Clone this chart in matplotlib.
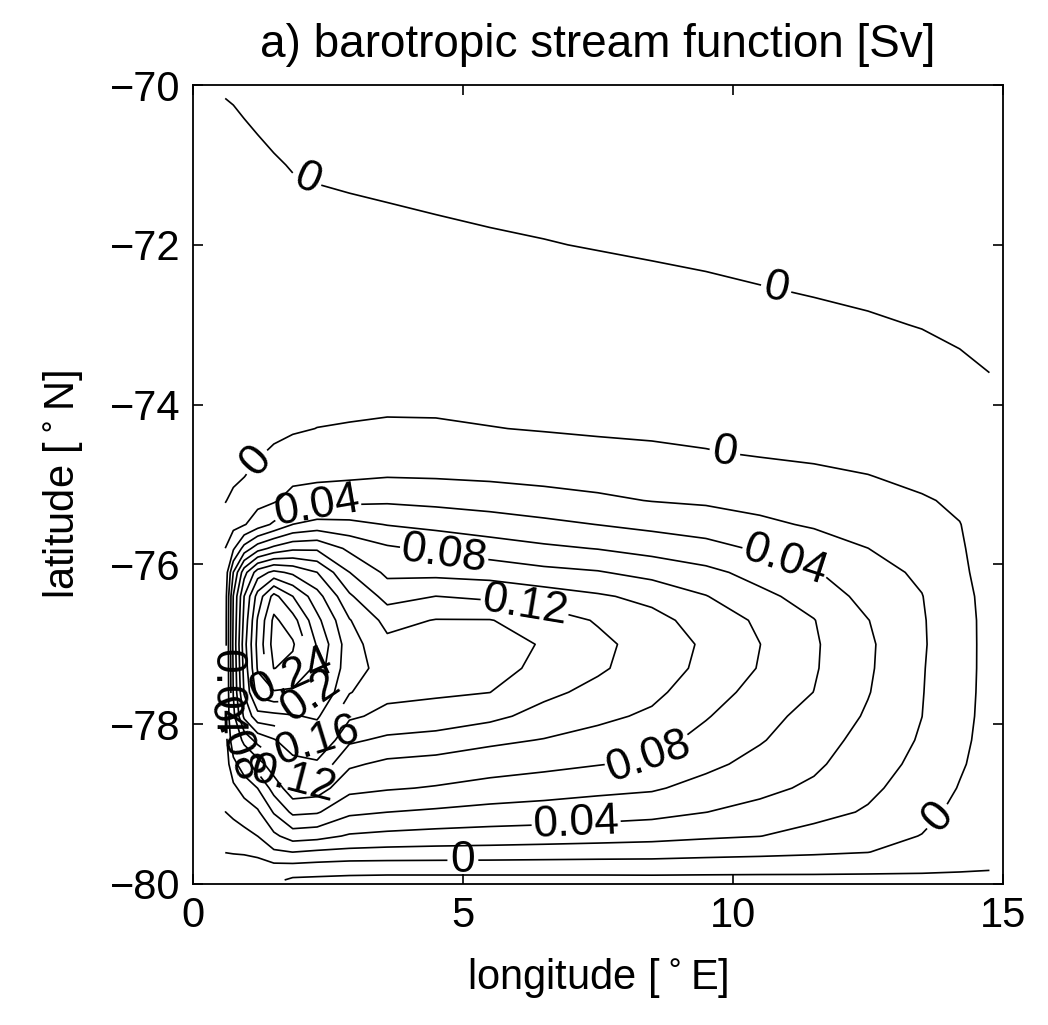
import matplotlib.pyplot as plt
import numpy as np

plt.rcParams['font.family'] = ['Liberation Sans', 'DejaVu Sans']

# model grid (deg E / deg N)
lon = [0.6, 0.75, 0.95, 1.2, 1.5, 1.85, 2.3, 2.9, 3.6, 4.5, 5.5, 6.5,
       7.5, 8.5, 9.5, 10.5, 11.5, 12.5, 13.5, 14.2, 14.75]
lat = [-79.95, -79.8, -79.6, -79.4, -79.1, -78.8, -78.5, -78.2, -77.9,
       -77.6, -77.3, -77.0, -76.7, -76.4, -76.1, -75.8, -75.5, -75.2,
       -74.9, -74.6, -74.3, -74.0, -73.0, -72.0, -71.0, -70.1]

# stream function [Sv], one profile (south -> north) per longitude
psi_by_lon = [
    [-0.012, -0.007, 0.0003, 0.010, 0.0198, 0.026, 0.029, 0.030, 0.031, 0.031, 0.031, 0.031, 0.031,
     0.030, 0.026, 0.0201, 0.009, -0.001, -0.006, -0.008, -0.009, -0.0095, -0.008, -0.0055, -0.0025, 0.0002],
    [-0.01, -0.0075, 0.001, 0.0105, 0.024, 0.036, 0.0533, 0.076, 0.0943, 0.1013, 0.103, 0.105, 0.103,
     0.101, 0.0805, 0.0371, 0.0143, 0.0048, -0.004, -0.0075, -0.0085, -0.009, -0.0075, -0.0055, -0.004, 0.0008],
    [-0.011, -0.0085, 0.0018, 0.0139, 0.030, 0.0471, 0.072, 0.1067, 0.144, 0.1617, 0.1669, 0.172, 0.166,
     0.1602, 0.1323, 0.0675, 0.0185, 0.0096, -0.0003, -0.006, -0.008, -0.0085, -0.007, -0.005, -0.0029, 0.0016],
    [-0.012, -0.0085, 0.0046, 0.0201, 0.0371, 0.0602, 0.0911, 0.1267, 0.1723, 0.208, 0.222, 0.226, 0.222,
     0.208, 0.17, 0.0914, 0.03, 0.0141, 0.0059, -0.002, -0.0065, -0.0075, -0.0065, -0.0045, -0.0019, 0.0026],
    [-0.016, -0.0075, 0.0171, 0.0357, 0.0618, 0.088, 0.112, 0.1382, 0.1743, 0.2171, 0.2606, 0.2678, 0.2644,
     0.2467, 0.185, 0.1057, 0.0433, 0.0175, 0.01, 0.0025, -0.0045, -0.0065, -0.006, -0.004, -0.0007, 0.0035],
    [-0.023, -0.008, 0.0202, 0.0493, 0.0842, 0.113, 0.1329, 0.152, 0.178, 0.2133, 0.2533, 0.2628, 0.248,
     0.2202, 0.176, 0.116, 0.0602, 0.028, 0.0145, 0.0063, -0.002, -0.0055, -0.006, -0.0036, 0.0004, 0.0045],
    [-0.024, -0.0095, 0.0169, 0.0467, 0.082, 0.11, 0.1357, 0.1615, 0.1833, 0.2015, 0.2105, 0.2178, 0.2054,
     0.188, 0.1602, 0.1167, 0.0677, 0.032, 0.016, 0.008, 0.0002, -0.004, -0.0065, -0.0032, 0.001, 0.005],
    [-0.025, -0.0115, 0.0147, 0.0378, 0.064, 0.0857, 0.1033, 0.1233, 0.1433, 0.1612, 0.1684, 0.1684, 0.1612,
     0.1433, 0.1202, 0.0957, 0.0659, 0.0348, 0.0173, 0.0093, 0.0013, -0.0035, -0.007, -0.0033, 0.0018, 0.0055],
    [-0.026, -0.0115, 0.0133, 0.035, 0.0601, 0.0818, 0.0955, 0.116, 0.1347, 0.1449, 0.152, 0.1451, 0.1338,
     0.1125, 0.0957, 0.083, 0.0592, 0.037, 0.0194, 0.0111, 0.0028, -0.003, -0.008, -0.0035, 0.0031, 0.0065],
    [-0.026, -0.0115, 0.0125, 0.0327, 0.0569, 0.0786, 0.0924, 0.1124, 0.1319, 0.1427, 0.1482, 0.1464, 0.1409,
     0.1202, 0.0943, 0.0763, 0.0545, 0.0347, 0.0186, 0.0105, 0.0024, -0.003, -0.008, -0.0025, 0.0041, 0.007],
    [-0.026, -0.0115, 0.0118, 0.0313, 0.0533, 0.0733, 0.0889, 0.104, 0.1253, 0.1402, 0.1449, 0.1478, 0.1408,
     0.116, 0.092, 0.0693, 0.0497, 0.0315, 0.017, 0.0088, 0.0005, -0.004, -0.0075, -0.0015, 0.0054, 0.008],
    [-0.026, -0.0115, 0.0106, 0.030, 0.0513, 0.0694, 0.0851, 0.0991, 0.1125, 0.125, 0.1366, 0.1385, 0.1306,
     0.1096, 0.0854, 0.0636, 0.0448, 0.0271, 0.0151, 0.0068, -0.001, -0.005, -0.007, -0.0004, 0.005, 0.008],
    [-0.026, -0.0115, 0.0095, 0.0283, 0.0489, 0.0653, 0.0808, 0.0931, 0.1043, 0.1141, 0.123, 0.1249, 0.1182,
     0.1025, 0.0815, 0.0593, 0.0397, 0.0232, 0.0133, 0.005, -0.0025, -0.0055, -0.0065, 0.0005, 0.0055, 0.0085],
    [-0.026, -0.011, 0.0084, 0.0264, 0.0461, 0.0624, 0.0767, 0.0873, 0.0968, 0.1045, 0.1096, 0.1114, 0.106,
     0.0948, 0.0733, 0.0533, 0.0347, 0.0194, 0.0111, 0.0028, -0.003, -0.006, -0.006, 0.0015, 0.006, 0.009],
    [-0.026, -0.012, 0.0064, 0.0229, 0.0402, 0.0533, 0.0645, 0.0734, 0.0815, 0.089, 0.0954, 0.0971, 0.0922,
     0.0808, 0.065, 0.0469, 0.0303, 0.0173, 0.009, 0.0008, -0.004, -0.0065, -0.005, 0.0025, 0.0065, 0.009],
    [-0.026, -0.0127, 0.0048, 0.0203, 0.034, 0.045, 0.054, 0.0615, 0.066, 0.073, 0.0788, 0.0802, 0.0767,
     0.0646, 0.0533, 0.0373, 0.0236, 0.0142, 0.0063, -0.0015, -0.005, -0.007, -0.0035, 0.0035, 0.007, 0.01],
    [-0.026, -0.013, 0.0027, 0.0135, 0.026, 0.0366, 0.0435, 0.0489, 0.0542, 0.0598, 0.0618, 0.0623, 0.0606,
     0.0527, 0.0418, 0.0294, 0.018, 0.0107, 0.0034, -0.003, -0.0055, -0.007, -0.0024, 0.0046, 0.008, 0.011],
    [-0.026, -0.014, 0.0004, 0.0073, 0.0182, 0.0238, 0.0285, 0.033, 0.0377, 0.041, 0.0426, 0.0431, 0.0405,
     0.0333, 0.0267, 0.0201, 0.0135, 0.007, 0.0004, -0.004, -0.006, -0.007, -0.0012, 0.0058, 0.009, 0.012],
    [-0.025, -0.016, -0.008, -0.0006, 0.006, 0.011, 0.015, 0.018, 0.0201, 0.0208, 0.0213, 0.0221, 0.0217,
     0.0205, 0.017, 0.012, 0.006, 0.0012, -0.003, -0.005, -0.006, -0.007, 0.0004, 0.006, 0.01, 0.013],
    [-0.026, -0.017, -0.012, -0.009, -0.005, -0.001, 0.002, 0.004, 0.005, 0.006, 0.0066, 0.0067, 0.0065,
     0.005, 0.003, 0.0015, 0.0003, -0.002, -0.003, -0.004, -0.005, -0.006, 0.0026, 0.008, 0.012, 0.014],
    [-0.024, -0.019, -0.014, -0.011, -0.009, -0.008, -0.007, -0.006, -0.005, -0.005, -0.005, -0.005, -0.005,
     -0.005, -0.006, -0.006, -0.006, -0.006, -0.006, -0.006, -0.006, -0.005, 0.0075, 0.01, 0.012, 0.014],
]

levels = [-0.02, 0.0, 0.02, 0.04, 0.06, 0.08, 0.1, 0.12, 0.14, 0.16, 0.18, 0.2, 0.22, 0.24, 0.26]

# where the contour labels sit (lon, lat)
label_spots = {
    0.0: [(2.1, -71.2), (10.8, -72.55), (1.15, -74.7), (9.85, -74.6), (5.0, -79.7), (13.85, -79.2)],
    0.04: [(2.3, -75.3), (10.95, -76.0), (7.1, -79.28), (0.62, -77.6)],
    0.08: [(4.65, -75.88), (8.45, -78.45), (0.72, -78.2)],
    0.12: [(6.15, -76.5), (1.85, -78.75)],
    0.16: [(2.3, -78.25)],
    0.2: [(2.2, -77.7)],
    0.24: [(1.8, -77.35)],
}

psi = np.array(psi_by_lon).T

fig = plt.figure(figsize=(10.48, 10.25), dpi=100)
ax = fig.add_axes([0.184, 0.1376, 0.773, 0.7794])

# unlabelled levels in one go, each labelled level on its own so the
# manual label positions snap to the right line
plain = [v for v in levels if v not in label_spots]
ax.contour(lon, lat, psi, levels=plain, colors='k', linewidths=1.2, linestyles='solid')
for lev, spots in label_spots.items():
    cs = ax.contour(lon, lat, psi, levels=[lev], colors='k', linewidths=1.2, linestyles='solid')
    ax.clabel(cs, levels=[lev], manual=spots, fmt=lambda v: f"{v:g}",
              fontsize=32, inline=True, inline_spacing=4)

ax.set_xlim(0, 15)
ax.set_ylim(-80, -70)
ax.set_xticks([0, 5, 10, 15])
ax.set_yticks([-80, -78, -76, -74, -72, -70])
ax.tick_params(axis='both', direction='in', length=7, width=1.2, labelsize=30,
               top=True, right=True, pad=9)
for s in ax.spines.values():
    s.set_linewidth(1.3)

ax.set_xlabel("longitude [$^\\circ$E]", fontsize=30, labelpad=14)
ax.set_ylabel("latitude [$^\\circ$N]", fontsize=30, labelpad=18)
ax.set_title("a) barotropic stream function [Sv]", fontsize=33, pad=20)

plt.savefig('out.png')
